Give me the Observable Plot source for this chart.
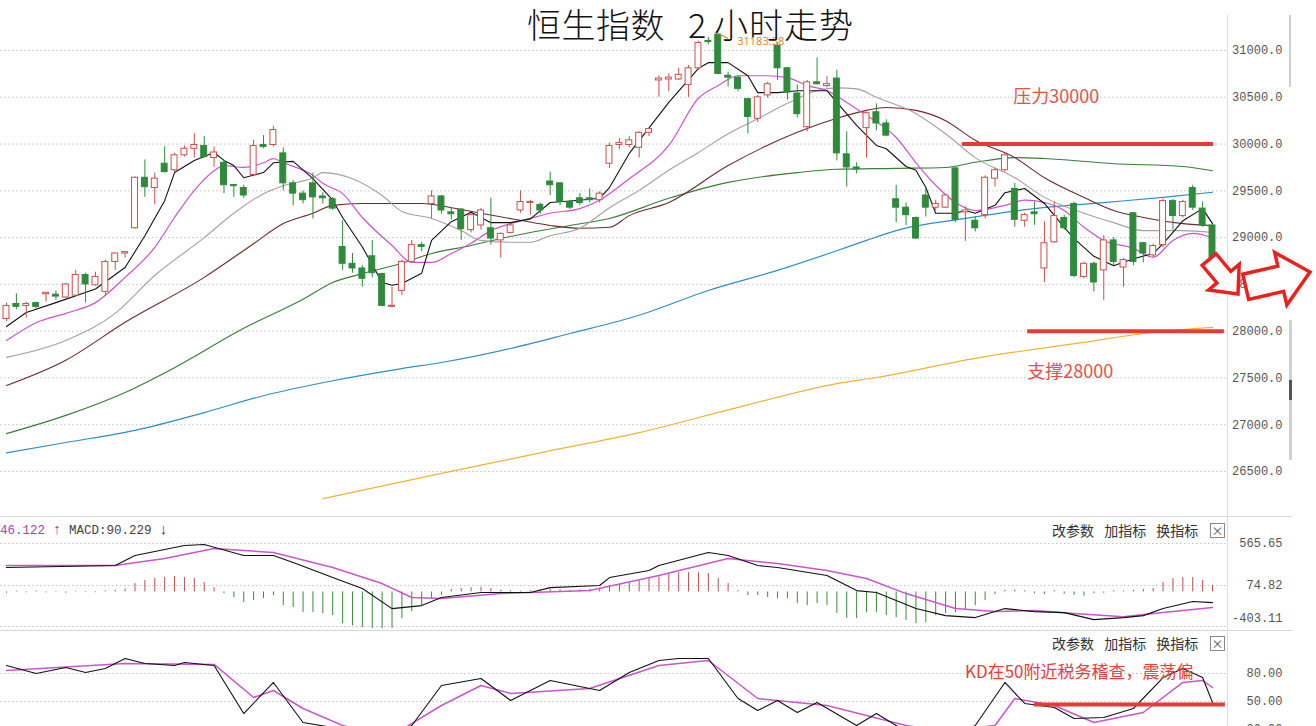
<!DOCTYPE html>
<html><head><meta charset="utf-8">
<script src="https://cdn.jsdelivr.net/npm/d3@7"></script>
<script src="https://cdn.jsdelivr.net/npm/@observablehq/plot@0.6"></script>
<style>
body{margin:0;background:#fff;}
#wrap{position:relative;width:1316px;height:726px;overflow:hidden;background:#fff;font-family:"Noto Sans CJK SC",sans-serif;}
.panel{position:absolute;left:0;width:1316px;overflow:hidden;}
.panel svg{overflow:hidden;}
.t{position:absolute;white-space:pre;line-height:1;}
.title{font-size:34px;color:#111;top:7px;font-weight:300;}
.tools{font-size:14px;color:#333;word-spacing:7px;left:1052px;}
.xbox{position:absolute;width:13px;height:13px;border:1px solid #888;left:1210px;font-size:12px;line-height:13px;text-align:center;color:#555;}
.hline{position:absolute;left:0;width:1292px;height:1px;background:#d8d8d8;}
</style></head><body>
<div id="wrap">
  <div id="main" class="panel" style="top:0;height:516px"></div>
  <div id="macd" class="panel" style="top:516px;height:114px"></div>
  <div id="kd" class="panel" style="top:630px;height:96px"></div>
  <div class="hline" style="top:516px"></div>
  <div class="hline" style="top:630px"></div>
  <div style="position:absolute;left:1227px;top:15px;width:1px;height:711px;background:#dcdcdc"></div>
  <div style="position:absolute;left:1289px;top:15px;width:2px;height:72px;background:#d0d0d0"></div>
  <div style="position:absolute;left:1289px;top:320px;width:3px;height:140px;background:#d0d0d0"></div>
  <div style="position:absolute;left:1289px;top:380px;width:3px;height:20px;background:#555"></div>
  <div class="t title" style="left:527px;letter-spacing:0.5px">恒生指数</div>
  <div class="t title" style="left:688px">2</div>
  <div class="t title" style="left:714px;letter-spacing:1px">小时走势</div>
  <div class="t" style="left:0;top:523px;font-family:'Liberation Mono',monospace;font-size:12.5px;"><span style="color:#b43cb4">46.122 <span style="font-size:15px">↑</span></span> <span style="color:#444">MACD:90.229 <span style="font-size:15px">↓</span></span></div>
  <div class="t tools" style="top:523px">改参数 加指标 换指标</div>
  <div class="xbox" style="top:523px">×</div>
  <div class="t tools" style="top:636px">改参数 加指标 换指标</div>
  <div class="xbox" style="top:636px">×</div>
  <div class="t" style="left:965px;top:662px;font-size:17px;color:#e5403a">KD在50附近税务稽查，震荡偏</div>
  <svg width="1316" height="726" style="position:absolute;left:0;top:0;pointer-events:none">
    <polygon transform="translate(1238,294) rotate(50)" points="0,0 -22,-20 -22,-9 -45,-9 -45,9 -22,9 -22,20" fill="#fff" stroke="#e8231f" stroke-width="3.5" stroke-linejoin="miter"/>
    <polygon transform="translate(1310,272) rotate(-13)" points="0,0 -30,-27 -30,-13 -66,-13 -66,13 -30,13 -30,27" fill="#fff" stroke="#e8231f" stroke-width="3.5" stroke-linejoin="miter"/>
  </svg>
</div>
<script>
// ---------- candle data (2-hour bars) ----------
const opens = [28130,28290,28270,28300,28395,28390,28360,28380,28600,28490,28420,28740,28830,29100,29640,29530,29790,29720,29880,29950,
29980,29850,29800,29560,29530,29670,29990,29990,29900,29580,29470,29580,29440,29410,28900,28720,28670,28800,28610,28260,
28430,28740,28920,29360,29440,29270,29300,29080,29130,29100,28970,29050,29290,29370,29350,29600,29580,29380,29420,29420,
29400,29790,29990,29990,29960,30120,30680,30690,30690,30630,30810,31100,31170,30730,30710,30480,30270,30520,31050,30810,
30540,30180,30660,30620,30700,29890,29750,30170,30340,30220,29410,29320,29210,29450,29320,29320,29740,29270,29180,29240,
29630,29720,29520,29180,29270,28670,28950,29210,29360,28580,28720,28650,28970,28680,29260,28940,28810,28920,29390,29230,
29530,29310,29130];
const closes = [28270,28260,28290,28260,28410,28370,28500,28600,28500,28580,28740,28830,28845,29640,29540,29630,29700,29880,29950,29990,
29860,29910,29560,29550,29450,29980,29970,30150,29580,29470,29400,29430,29420,29310,28720,28670,28560,28620,28270,28270,
28740,28920,28900,29440,29290,29250,29090,29240,29290,28990,29040,29130,29380,29380,29290,29560,29380,29320,29370,29400,
29470,29980,30010,30040,30120,30160,30700,30710,30740,30810,31080,31090,30750,30710,30590,30290,30500,30640,30810,30550,
30320,30660,30640,30640,29900,29750,29730,30330,30220,30090,29320,29240,28990,29320,29360,29450,29190,29290,29100,29640,
29720,29880,29190,29240,29250,28940,29230,29100,28590,28720,28520,28970,28740,28760,28740,28830,28910,29390,29230,29380,
29320,29130,28720];
const highs = [28300,28400,28310,28310,28415,28430,28510,28650,28620,28630,28760,28835,28850,29650,29830,29690,29970,29900,29980,30110,
30080,29970,29820,29565,29560,30040,30090,30190,29960,29610,29500,29690,29480,29430,29180,28830,28700,28970,28620,28470,
28760,28970,28950,29500,29450,29320,29310,29260,29310,29420,29050,29150,29500,29400,29370,29700,29590,29400,29470,29520,
29490,30010,30060,30080,30130,30170,30730,30750,30810,30840,31100,31140,31183.38,30770,30730,30490,30520,30660,31080,30820,
30630,30680,30920,30720,30790,30130,29800,30340,30430,30260,29560,29370,29220,29540,29400,29460,29750,29330,29220,29660,
29740,29900,29580,29260,29380,29170,29380,29240,29380,28740,28740,29020,29000,28780,29270,28950,28930,29410,29410,29400,
29560,29380,29140];
const lows = [28100,28230,28140,28240,28310,28330,28350,28370,28300,28480,28380,28650,28780,29090,29430,29350,29690,29700,29860,29850,
29850,29750,29470,29430,29420,29650,29950,29970,29500,29340,29360,29200,29360,29290,28650,28620,28470,28570,28260,28250,
28380,28730,28850,29200,29250,29190,28970,29050,29080,28920,28780,29040,29260,29240,29250,29450,29340,29300,29340,29370,
29370,29740,29940,29960,29850,30080,30500,30560,30680,30500,30790,31060,30740,30610,30560,30110,30230,30490,30680,30470,
30280,30130,30630,30600,29820,29540,29680,29850,30140,30080,29160,29130,28980,29220,29290,29310,29160,28960,29060,29200,
29540,29700,29110,29110,29130,28520,28940,29080,28570,28560,28420,28330,28700,28470,28700,28730,28780,28890,29080,29210,
29290,29110,28700];

// ---------- moving averages: [bar index, value] ----------
const ma5 = [[0,28050],[2,28200],[5,28305],[9,28450],[12,28680],[14,29020],[16,29395],[17,29695],[19,29825],[21,29910],[22,29825],[23,29770],[24,29640],[26,29695],[27,29800],[29,29815],[31,29630],[33,29400],[34,29215],[36,28900],[38,28520],[39,28490],[40,28510],[42,28620],[43,28970],[45,29170],[47,29270],[49,29160],[51,29160],[53,29200],[55,29375],[58,29400],[60,29420],[61,29535],[63,29900],[67,30445],[70,30810],[71,30870],[73,30870],[75,30730],[76,30550],[78,30550],[80,30570],[83,30570],[84,30445],[86,30200],[88,29985],[89,29950],[91,29760],[92,29720],[93,29535],[94,29260],[96,29260],[97,29290],[98,29260],[100,29345],[101,29480],[103,29525],[105,29365],[107,29110],[108,28990],[110,28800],[112,28700],[114,28775],[116,28830],[117,28935],[119,29180],[121,29310],[122,29150]];
const ma10 = [[0,27900],[3,28090],[6,28190],[9,28305],[12,28575],[15,28895],[17,29215],[19,29505],[21,29715],[22,29770],[24,29750],[26,29800],[27,29845],[28,29800],[31,29665],[32,29580],[34,29470],[36,29215],[39,28915],[41,28735],[43,28735],[45,28830],[47,28940],[49,29075],[51,29150],[53,29205],[55,29260],[58,29310],[60,29400],[63,29630],[67,29985],[70,30490],[72,30625],[74,30730],[77,30730],[79,30710],[81,30625],[83,30570],[85,30445],[87,30305],[89,30165],[90,30070],[92,29800],[94,29560],[96,29375],[98,29290],[101,29345],[103,29400],[105,29375],[107,29290],[109,29110],[111,28970],[114,28885],[116,28790],[118,28970],[120,29045],[122,29000]];
const ma20 = [[0,27720],[6,27900],[11,28190],[15,28595],[20,29000],[23,29260],[26,29470],[28,29555],[31,29640],[32,29695],[35,29630],[38,29450],[40,29280],[43,29205],[46,29075],[48,28970],[51,28950],[53,28950],[55,29020],[58,29100],[61,29320],[64,29505],[67,29720],[70,29910],[73,30110],[76,30270],[79,30435],[82,30570],[84,30600],[86,30590],[88,30500],[92,30325],[95,30110],[98,29855],[102,29640],[105,29430],[109,29260],[112,29160],[115,29075],[119,29075],[122,29055]];
const ma30 = [[0,27420],[6,27690],[12,28095],[20,28575],[25,28935],[28,29150],[31,29260],[33,29345],[36,29365],[42,29365],[45,29320],[48,29260],[52,29185],[55,29130],[58,29100],[61,29110],[63,29235],[67,29375],[73,29770],[80,30125],[84,30275],[87,30360],[89,30390],[92,30360],[95,30250],[98,30040],[102,29855],[105,29640],[109,29430],[112,29290],[115,29215],[119,29150],[122,29130]];
const ma60 = [[0,26905],[6,27100],[12,27345],[17,27610],[24,28030],[30,28340],[33,28520],[36,28615],[40,28725],[43,28830],[47,28915],[50,28990],[53,29055],[57,29130],[61,29205],[67,29420],[73,29590],[80,29695],[84,29730],[90,29740],[95,29750],[98,29805],[102,29855],[105,29845],[112,29790],[119,29760],[122,29715]];
const ma120 = [[0,26700],[6,26810],[13,26940],[20,27130],[26,27310],[33,27470],[40,27600],[44,27665],[51,27815],[57,27975],[64,28170],[71,28435],[78,28650],[84,28860],[87,28970],[90,29075],[97,29205],[104,29310],[111,29375],[117,29430],[122,29485]];
const ma250 = [[32,26210],[44,26480],[54,26700],[64,26915],[74,27185],[84,27440],[88,27505],[98,27710],[109,27880],[115,27975],[122,28040]];

const priceTicks = [26500,27000,27500,28000,28500,29000,29500,30000,30500,31000];
const resistance = 30000, support = 28000;
const resistSpan = [96.7, 122.1], supportSpan = [103.3, 123.2];
const highLabel = "31183.38", highIndex = 72, highValue = 31183.38;

// ---------- MACD ----------
const macdHist = [-15,10,-10,12,-12,8,-15,10,10,-8,12,20,35,
 98,133,157,168,180,168,157,110,50,
 -20,-65,-124,-100,-77,-42,-159,-182,-241,-241,-252,-276,-370,-393,-416,-428,-428,-428,-311,-229,-159,
 -80,-40,30,40,50,55,40,20,15,10,15,20,30,25,20,25,30,40,
 60,85,110,133,157,175,215,225,225,225,215,157,98,16,
 -42,-42,-65,-77,-77,-136,-159,-136,-159,-250,-311,-311,-241,-241,-276,-299,-334,-370,-358,-276,-252,-241,-217,-159,-100,
 -30,20,25,15,-20,-30,15,-25,-40,-50,-20,-15,15,10,20,30,
 40,110,157,168,168,133,75];
const dif = [[0,285],[11,309],[13,425],[18,542],[20,554],[24,425],[27,425],[29,344],[33,168],[36,40],[39,-194],[42,-159],[44,-65],[48,-7],[53,-7],[55,51],[60,75],[61,168],[65,250],[66,309],[71,460],[73,425],[76,309],[78,285],[83,192],[86,16],[88,-7],[92,-194],[95,-276],[98,-299],[101,-194],[104,-229],[107,-241],[110,-323],[113,-299],[115,-276],[117,-194],[120,-112],[122,-124]];
const dea = [[0,309],[11,309],[16,390],[21,507],[27,460],[33,285],[38,98],[41,-65],[44,-77],[50,-19],[59,16],[66,192],[73,390],[78,332],[83,250],[87,157],[91,-19],[96,-194],[100,-229],[104,-217],[108,-252],[113,-288],[117,-241],[122,-182]];
const macdTicks = [565.65, 74.82, -403.11];

// ---------- KD ----------
const kLine = [[0,88.6],[3,80],[6,86.4],[8,81.1],[10,85.4],[12,96.1],[14,90.7],[17,88.6],[18,91.8],[21,88.6],[24,37.1],[27,70.4],[30,27.5],[33,22.1],[35,15],[37,8],[39,12],[41,24.3],[44,67.1],[48,74.7],[51,51.1],[55,72.5],[60,61.8],[63,81.1],[66,93.9],[68,96.1],[71,96.1],[74,53.2],[76,40.4],[78,51.1],[80,38.2],[82,48.9],[86,24.3],[88,37.1],[90,24.3],[92,12],[94,15],[96,12],[98,24.3],[101,70.4],[103,47.9],[106,43.6],[108,31.8],[111,32.9],[114,42.5],[117,75.7],[119,85.4],[121,75.7],[122,48.9]];
const dLine = [[0,83.2],[12,90.7],[21,89.7],[25,54.3],[27,61.8],[30,42.5],[34,24.3],[37,16],[40,20],[44,45.7],[48,67.1],[51,58.6],[59,63.9],[66,88.6],[71,93.9],[76,53.2],[83,45.7],[91,24.3],[95,18],[100,24.3],[102,53.2],[106,45.7],[110,27.5],[115,38.2],[119,70.4],[121,72.5],[122,65]];
const kdTicks = [80, 50, 20];
const kdRefLevel = 50, kdRefSpan = [104, 123.3];

// ---------- build ----------
const bars = opens.map((o,i)=>({i, o, c:closes[i], h:highs[i], l:lows[i]}));
const UP = "#c9504c", DOWN = "#2f8a3c";
const col = d => d.c >= d.o ? UP : DOWN;
const pts = a => a.map(([i,v])=>({i,v}));
const W = 1316, MR = 88;
const X = {domain:[0,122], range:[6,1212]};
const numFont = "Liberation Mono, monospace";

const mainPlot = Plot.plot({
  width: W, height: 516, marginLeft: 0, marginRight: MR, marginTop: 0, marginBottom: 0,
  x: {...X, axis: null},
  y: {domain:[26500,31000], range:[471,50], axis: null},
  style: {background:"transparent", overflow:"hidden"},
  marks: [
    Plot.gridY(priceTicks, {stroke:"#c4c4c4", strokeOpacity:1, strokeDasharray:"1.5,2.5"}),
    Plot.axisY(priceTicks, {anchor:"right", tickSize:0, tickPadding:0, dx:54, textAnchor:"end", tickFormat:d=>d.toFixed(1), fontSize:12, fill:"#555", fontFamily:numFont}),
    Plot.line(pts(ma250), {x:"i", y:"v", stroke:"#f2b233", strokeWidth:1.2, curve:"monotone-x"}),
    Plot.line(pts(ma120), {x:"i", y:"v", stroke:"#2d8fc6", strokeWidth:1.2, curve:"monotone-x"}),
    Plot.line(pts(ma60), {x:"i", y:"v", stroke:"#3a7d3a", strokeWidth:1.1, curve:"monotone-x"}),
    Plot.line(pts(ma30), {x:"i", y:"v", stroke:"#6e2a2a", strokeWidth:1.1, curve:"monotone-x"}),
    Plot.line(pts(ma20), {x:"i", y:"v", stroke:"#a8a0a0", strokeWidth:1.1, curve:"monotone-x"}),
    Plot.line(pts(ma10), {x:"i", y:"v", stroke:"#cc55cc", strokeWidth:1.2, curve:"monotone-x"}),
    Plot.line(pts(ma5), {x:"i", y:"v", stroke:"#111", strokeWidth:1.1}),
    Plot.ruleX(bars, {x:"i", y1:"l", y2:"h", stroke:col, strokeWidth:1}),
    Plot.rect(bars, {x1:d=>d.i-0.3, x2:d=>d.i+0.3,
      y1:d=>Math.min(d.o,d.c), y2:d=>Math.max(Math.max(d.o,d.c), Math.min(d.o,d.c)+12),
      fill:d=>d.c>=d.o?"#fff":DOWN, stroke:col, strokeWidth:1}),
    Plot.ruleY([resistance], {x1:resistSpan[0], x2:resistSpan[1], stroke:"#e53a36", strokeWidth:4}),
    Plot.ruleY([support], {x1:supportSpan[0], x2:supportSpan[1], stroke:"#e53a36", strokeWidth:4}),
    Plot.text(["压力30000"], {x:106.2, y:30500, text:d=>d, fontSize:18, fill:"#e4504c", fontFamily:"Noto Sans CJK SC"}),
    Plot.text(["支撑28000"], {x:107.6, y:27560, text:d=>d, fontSize:18, fill:"#e4504c", fontFamily:"Noto Sans CJK SC"}),
    Plot.link([0], {x1:highIndex, y1:highValue, x2:highIndex+1, y2:highValue-55, stroke:"#e0883a", strokeWidth:1.2}),
    Plot.text([highLabel], {x:highIndex, y:highValue, text:d=>d, dx:19, dy:8, textAnchor:"start", fontSize:11, fill:"#e0883a", fontFamily:"Noto Sans"})
  ]
});
document.getElementById("main").append(mainPlot);

const macdPlot = Plot.plot({
  width: W, height: 114, marginLeft: 0, marginRight: MR, marginTop: 0, marginBottom: 0,
  x: {...X, axis: null},
  y: {domain:[-403.11, 565.65], range:[110, 27], axis: null},
  style: {background:"transparent", overflow:"hidden"},
  marks: [
    Plot.gridY(macdTicks, {stroke:"#c4c4c4", strokeOpacity:1, strokeDasharray:"1.5,2.5"}),
    Plot.text(macdTicks.slice(0,2), {y:d=>d, text:d=>d.toFixed(2), frameAnchor:"right", dx:54, textAnchor:"end", fontSize:12, fill:"#555", fontFamily:numFont}),
    Plot.text(macdTicks.slice(2), {y:d=>d, text:d=>d.toFixed(2), frameAnchor:"right", dx:54, dy:-8, textAnchor:"end", fontSize:12, fill:"#555", fontFamily:numFont}),
    Plot.ruleX(macdHist, {x:(d,i)=>i, y1:0, y2:d=>d, stroke:d=>d>=0?"#b85050":"#3c8a3c", strokeWidth:1}),
    Plot.line(pts(dea), {x:"i", y:"v", stroke:"#cc55cc", strokeWidth:1.5}),
    Plot.line(pts(dif), {x:"i", y:"v", stroke:"#111", strokeWidth:1.1})
  ]
});
document.getElementById("macd").append(macdPlot);

const kdPlot = Plot.plot({
  width: W, height: 96, marginLeft: 0, marginRight: MR, marginTop: 0, marginBottom: 0,
  x: {...X, axis: null},
  y: {domain:[50,80], range:[71,43], axis: null},
  style: {background:"transparent", overflow:"hidden"},
  marks: [
    Plot.gridY(kdTicks, {stroke:"#c4c4c4", strokeOpacity:1, strokeDasharray:"1.5,2.5"}),
    Plot.text(kdTicks, {y:d=>d, text:d=>d.toFixed(2), frameAnchor:"right", dx:54, textAnchor:"end", fontSize:12, fill:"#555", fontFamily:numFont}),
    Plot.line(pts(dLine), {x:"i", y:"v", stroke:"#cc55cc", strokeWidth:1.5}),
    Plot.line(pts(kLine), {x:"i", y:"v", stroke:"#111", strokeWidth:1.1}),
    Plot.ruleY([kdRefLevel], {x1:kdRefSpan[0], x2:kdRefSpan[1], dy:3, stroke:"#e53a36", strokeWidth:4})
  ]
});
document.getElementById("kd").append(kdPlot);
</script>
</body></html>
